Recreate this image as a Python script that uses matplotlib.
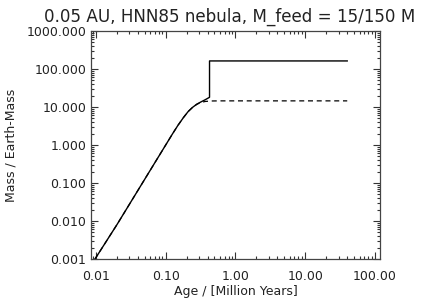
import matplotlib
matplotlib.use("Agg")
import matplotlib.pyplot as plt
from matplotlib.ticker import FixedLocator, FormatStrFormatter, LogLocator

# core mass (solid) and solid + gas (jump) vs age
age_solid = [0.0097, 0.02, 0.05, 0.1, 0.126, 0.15, 0.18, 0.21, 0.243, 0.28, 0.32, 0.37, 0.425, 0.425, 40.0]
mass_solid = [0.001, 0.008, 0.125, 1.0, 2.0, 3.3, 5.3, 7.6, 9.8, 11.9, 13.6, 15.6, 18.0, 163.0, 163.0]

age_dash = [0.0097, 0.02, 0.05, 0.1, 0.126, 0.15, 0.18, 0.21, 0.243, 0.28, 0.32, 0.37, 0.45, 0.6, 40.0]
mass_dash = [0.001, 0.008, 0.125, 1.0, 2.0, 3.3, 5.3, 7.6, 9.8, 11.8, 13.2, 14.0, 14.4, 14.5, 14.5]

x_ticks = [0.01, 0.1, 1, 10, 100]
y_ticks = [0.001, 0.01, 0.1, 1, 10, 100, 1000]

plt.rcParams['font.family'] = 'DejaVu Sans'
fig = plt.figure(figsize=(4.25, 3.02), dpi=100)
ax = fig.add_axes([91 / 425, 1 - 259 / 302, 289 / 425, 228 / 302])

ax.plot(age_solid, mass_solid, color='black', linewidth=1.0)
ax.plot(age_dash, mass_dash, color='black', linewidth=0.9, linestyle=(0, (4, 3)))

ax.set_xscale('log')
ax.set_yscale('log')
ax.set_xlim(0.0085, 118)
ax.set_ylim(0.001, 1000)

ax.xaxis.set_major_locator(FixedLocator(x_ticks))
ax.yaxis.set_major_locator(FixedLocator(y_ticks))
ax.xaxis.set_minor_locator(LogLocator(base=10, subs=range(2, 10), numticks=20))
ax.yaxis.set_minor_locator(LogLocator(base=10, subs=range(2, 10), numticks=20))
ax.xaxis.set_major_formatter(FormatStrFormatter('%.2f'))
ax.yaxis.set_major_formatter(FormatStrFormatter('%.3f'))

ax.tick_params(which='both', direction='in', top=True, right=True, colors='#333333',
               labelcolor='#222222', labelsize=9, width=0.8)
ax.tick_params(which='major', length=5)
ax.tick_params(axis='x', which='major', pad=8)
ax.tick_params(which='minor', length=2.5)
for s in ax.spines.values():
    s.set_color('#444444')
    s.set_linewidth(0.9)

ax.set_xlabel('Age / [Million Years]', fontsize=9, color='#222222', labelpad=1)
ax.set_ylabel('Mass / Earth-Mass', fontsize=9, color='#222222', labelpad=6)

fig.text(44 / 425, 1 - 22 / 302, '0.05 AU, HNN85 nebula, M_feed = 15/150 M',
         fontsize=12.1, color='#222222', ha='left', va='baseline')

fig.savefig('out.png', dpi=100)
